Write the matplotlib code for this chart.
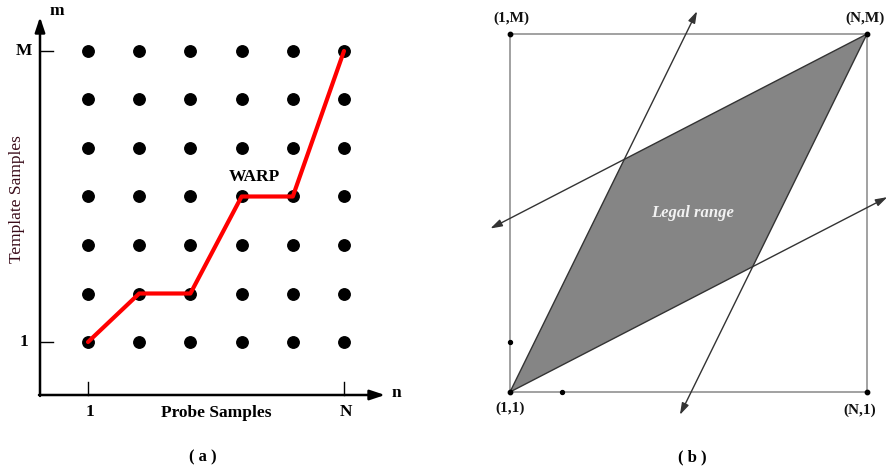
import numpy as np
import matplotlib
matplotlib.use("Agg")
import matplotlib.pyplot as plt
from matplotlib.patches import Polygon

# ---- panel (a): DTW grid ----
n_cols = 6
m_rows = 7
warp_n = [1, 2, 3, 4, 5, 6]
warp_m = [1, 2, 2, 4, 4, 7]
x_ticks = [1, 6]
x_tick_labels = ["1", "N"]
y_ticks = [1, 7]
y_tick_labels = ["1", "M"]

# ---- panel (b): legal range (normalised 0..1 square) ----
corners = [(0, 0), (1, 0), (0, 1), (1, 1)]
corner_labels = ["(1,1)", "(N,1)", "(1,M)", "(N,M)"]
slope_steep = 2.03
slope_flat = 0.515
extra_pts_x = [0.0, 0.146]
extra_pts_y = [0.14, 0.0]

serif = "Liberation Serif"

fig = plt.figure(figsize=(8.9, 4.69), dpi=100)
W, H = 890, 469


def px_axes(x0, x1):
    return fig.add_axes([x0 / W, 0, (x1 - x0) / W, 1])


# ================= (a) =================
ax = px_axes(0, 440)
# pixel mapping: n=1 -> 88px, step 51.2px ; m=1 -> 342px from top, step 48.5px
ax.set_xlim(1 - 88 / 51.2, 1 + 352 / 51.2)
ax.set_ylim(1 - 127 / 48.5, 1 + 342 / 48.5)
ax.axis("off")

x0_axis = 1 - 48 / 51.2
y0_axis = 1 - 53 / 48.5
x_tip = 1 + 297 / 51.2
y_tip = 1 + 325 / 48.5
arrow_kw = dict(arrowstyle="-|>,head_length=0.9,head_width=0.3", color="black", lw=1.8,
                shrinkA=0, shrinkB=0)
ax.annotate("", xy=(x_tip, y0_axis), xytext=(x0_axis - 0.02, y0_axis), arrowprops=arrow_kw)
ax.annotate("", xy=(x0_axis, y_tip), xytext=(x0_axis, y0_axis - 0.02), arrowprops=arrow_kw)
ax.text(x_tip + 0.22, y0_axis + 0.05, "n", fontfamily=serif, fontweight="bold", fontsize=12.5,
        ha="center", va="center")
ax.text(x0_axis + 0.33, y_tip + 0.12, "m", fontfamily=serif, fontweight="bold", fontsize=12.5,
        ha="center", va="center")

tick_dx = 13 / 51.2
tick_dy = 13 / 48.5
for xv, lab in zip(x_ticks, x_tick_labels):
    ax.plot([xv, xv], [y0_axis, y0_axis + tick_dy], color="black", lw=1.0)
    ax.text(xv + 0.03, y0_axis - 0.35, lab, fontfamily=serif, fontweight="bold", fontsize=12.5,
            ha="center", va="center")
for yv, lab in zip(y_ticks, y_tick_labels):
    ax.plot([x0_axis, x0_axis + tick_dx], [yv, yv], color="black", lw=1.0)
    ax.text(x0_axis - 0.32, yv, lab, fontfamily=serif, fontweight="bold", fontsize=12.5,
            ha="center", va="center")

nn, mm = np.meshgrid(np.arange(1, n_cols + 1), np.arange(1, m_rows + 1))
ax.scatter(nn.ravel(), mm.ravel(), s=68, color="black", zorder=2)
ax.plot(warp_n, warp_m, color="#ff0000", lw=3, zorder=3, solid_capstyle="round")

ax.text(4.25, 4.4, "WARP", fontfamily=serif, fontweight="bold", fontsize=12.5,
        ha="center", va="center")
ax.text(3.5, y0_axis - 0.37, "Probe Samples", fontfamily=serif, fontweight="bold", fontsize=12.5,
        ha="center", va="center")
ax.text(1 - 71 / 51.2, 3.95, "Template Samples", fontfamily=serif, fontsize=12.5,
        rotation=90, ha="center", va="center", color="#3a0c1a")
ax.text(3.25, y0_axis - 1.28, "( a )", fontfamily=serif, fontweight="bold", fontsize=12,
        ha="center", va="center")

# ================= (b) =================
bx = px_axes(440, 890)
bx.set_xlim((440 - 510) / 357, (890 - 510) / 357)
bx.set_ylim((392 - 469) / 358, 392 / 358)
bx.axis("off")

sq_x = [0, 1, 1, 0, 0]
sq_y = [0, 0, 1, 1, 0]
bx.plot(sq_x, sq_y, color="#9a9a9a", lw=1.3, zorder=1)

# parallelogram bounded by lines of steep and flat slope through (0,0) and (1,1)
xa = (1 - slope_flat) / (slope_steep - slope_flat)
ya = slope_steep * xa
xb = (slope_steep - 1) / (slope_steep - slope_flat)
yb = slope_flat * xb
poly = Polygon([(0, 0), (xa, ya), (1, 1), (xb, yb)], closed=True,
               facecolor="#858585", edgecolor="#333333", lw=1.0, zorder=2)
bx.add_patch(poly)

aprops = dict(arrowstyle="-|>,head_length=0.7,head_width=0.22", color="#333333", lw=1.0,
              shrinkA=0, shrinkB=0)
# steep line through (0,0) up to arrow
x_end = 0.524
bx.annotate("", xy=(x_end, slope_steep * x_end), xytext=(xa, ya), arrowprops=aprops, zorder=3)
# flat line through (1,1) out to the left
x_end = -0.055
bx.annotate("", xy=(x_end, 1 + slope_flat * (x_end - 1)), xytext=(xa, ya), arrowprops=aprops,
            zorder=3)
# flat line through (0,0) out to the right
x_end = 1.057
bx.annotate("", xy=(x_end, slope_flat * x_end), xytext=(xb, yb), arrowprops=aprops, zorder=3)
# steep line through (1,1) down
x_end = 0.476
bx.annotate("", xy=(x_end, 1 + slope_steep * (x_end - 1)), xytext=(xb, yb), arrowprops=aprops,
            zorder=3)

cx = [c[0] for c in corners]
cy = [c[1] for c in corners]
bx.scatter(cx, cy, s=10, color="black", zorder=4)
bx.scatter(extra_pts_x, extra_pts_y, s=8, color="black", zorder=4)

label_pos = {"(1,1)": (0.0, -0.045), "(N,1)": (0.98, -0.05),
             "(1,M)": (0.005, 1.045), "(N,M)": (0.995, 1.045)}
for lab in corner_labels:
    px, py = label_pos[lab]
    bx.text(px, py, lab, fontfamily=serif, fontweight="bold", fontsize=11,
            ha="center", va="center", color="#111111")

bx.text(0.51, 0.50, "Legal range", fontfamily=serif, fontweight="bold", style="italic",
        fontsize=12, color="#f2f2f2", ha="center", va="center", zorder=5)
bx.text(0.511, (392 - 457) / 358, "( b )", fontfamily=serif, fontweight="bold", fontsize=12,
        ha="center", va="center")

fig.savefig("out.png", dpi=100)
